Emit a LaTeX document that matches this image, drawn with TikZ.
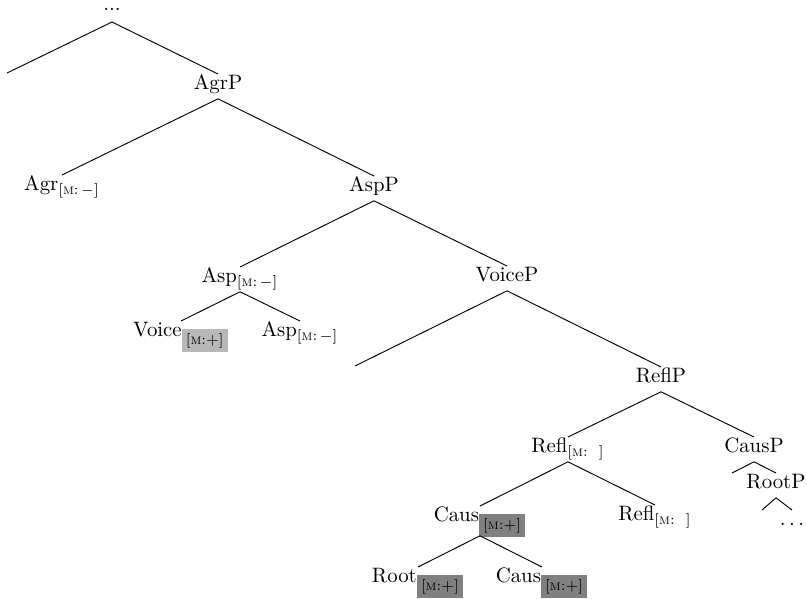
\documentclass[tikz,border=0pt]{standalone}
\usepackage{xcolor}
\definecolor{featdark}{gray}{0.5}
\definecolor{featlight}{gray}{0.72}
\newcommand{\feat}[1]{\textsubscript{[\textsc{m}:#1]}}
\newcommand{\hfeat}[2]{\textsubscript{\setlength{\fboxsep}{2pt}\colorbox{#1}{[\textsc{m}:#2]}}}
\begin{document}
\begin{tikzpicture}[x=0.48pt,y=-0.48pt,
  lab/.style={inner sep=0pt, text height=7.2pt, text depth=4.3pt, anchor=north},
  boxlab/.style={lab, text depth=6.7pt},
  edge/.style={line width=0.45pt}]
\useasboundingbox (0,0) rectangle (807,598);
% nodes
\node[inner sep=0pt, text depth=5.3pt, anchor=south] (top) at (112,22) {...};
\coordinate (e1) at (7,73);
\node[lab] (agrp) at (218,74) {AgrP};
\node[lab] (agr) at (62,175) {Agr\feat{\,$-$}};
\node[lab] (aspp) at (374,176) {AspP};
\node[lab] (asp1) at (240,267) {Asp\feat{\,$-$}};
\node[lab] (voice) at (181,321) {Voice\hfeat{featlight}{+}};
\node[lab] (asp2) at (300,321) {Asp\feat{\,$-$}};
\node[lab] (voicep) at (507,266) {VoiceP};
\coordinate (e2) at (355,366);
\node[lab] (reflp) at (661,367) {ReflP};
\node[lab] (refl1) at (568,437) {Refl\feat{\ \ }};
\node[lab] (causp) at (754,437) {CausP};
\node[boxlab] (caus1) at (480,506) {Caus\hfeat{featdark}{+}};
\node[lab] (refl2) at (655,505) {Refl\feat{\ \ }};
\node[lab] (root) at (418,567) {Root\hfeat{featdark}{+}};
\node[lab] (caus2) at (542,567) {Caus\hfeat{featdark}{+}};
\coordinate (e3) at (732,473);
\node[lab] (rootp) at (776,473) {RootP};
\coordinate (e4) at (762,510);
\node[lab] (dots) at (792,510) {$\ldots$};
% edges
\draw[edge] (top.south) -- (e1);
\draw[edge] (top.south) -- (agrp.north);
\draw[edge] (agrp.south) -- (agr.north);
\draw[edge] (agrp.south) -- (aspp.north);
\draw[edge] (aspp.south) -- (asp1.north);
\draw[edge] (aspp.south) -- (voicep.north);
\draw[edge] (asp1.south) -- (voice.north);
\draw[edge] (asp1.south) -- (asp2.north);
\draw[edge] (voicep.south) -- (e2);
\draw[edge] (voicep.south) -- (reflp.north);
\draw[edge] (reflp.south) -- (refl1.north);
\draw[edge] (reflp.south) -- (causp.north);
\draw[edge] (refl1.south) -- (caus1.north);
\draw[edge] (refl1.south) -- (refl2.north);
\draw[edge] (caus1.south) -- (root.north);
\draw[edge] (caus1.south) -- (caus2.north);
\draw[edge] (causp.south) -- (e3);
\draw[edge] (causp.south) -- (rootp.north);
\draw[edge] (rootp.south) -- (e4);
\draw[edge] (rootp.south) -- (dots.north);
\end{tikzpicture}
\end{document}
